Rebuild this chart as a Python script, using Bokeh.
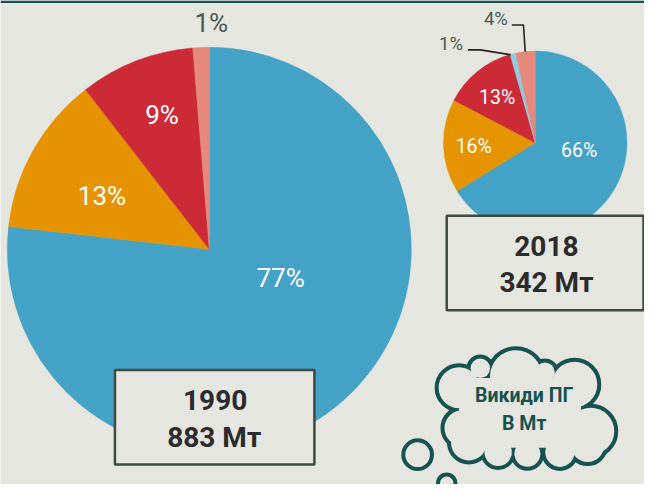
import math
from bokeh.plotting import figure
from bokeh.models import Range1d, ColumnDataSource
from bokeh.embed import file_html
from bokeh.resources import INLINE
from bokeh.core.properties import value

# ---------------- data ----------------
sectors = ["Сектор 1", "Сектор 2", "Сектор 3", "Сектор 4", "Сектор 5"]
share_1990 = [76.8, 12.7, 9.2, 0.0, 1.3]
share_2018 = [66.2, 16.5, 12.9, 1.0, 3.4]
labels_1990 = ["77%", "13%", "9%", "", "1%"]
labels_2018 = ["66%", "16%", "13%", "1%", "4%"]
years = ["1990", "2018"]
totals = ["883 Мт", "342 Мт"]
note_lines = ["Викиди ПГ", "В Мт"]

# ---------------- style / layout ----------------
BG = "#e6e6e1"
TEAL = "#155250"
BOX_LINE = "#3c4a41"
BOX_TEXT = "#2b2b2b"
OUT_TEXT = "#4a5850"
colors = ["#43a2c6", "#e59400", "#cc2a37", "#8ecbe0", "#e4897b"]

W, H = 660, 500


def Y(y):
    return H - y


p = figure(width=644, height=484, x_range=Range1d(0, W), y_range=Range1d(0, H),
           output_backend="svg", toolbar_location=None, min_border=0,
           x_axis_location=None, y_axis_location=None,
           background_fill_color=BG, border_fill_color=BG, outline_line_color=None)
p.grid.visible = False

# top rule
p.quad(left=[0], right=[W], top=[Y(0)], bottom=[Y(2.5)], fill_color=TEAL, line_color=None)


def wedge_source(shares, cx, cy, r):
    total = sum(shares)
    acc = 0.0
    d = dict(start=[], end=[], color=[], x=[], y=[], r=[])
    for s, c in zip(shares, colors):
        a0 = math.pi / 2 - 2 * math.pi * acc / total
        acc += s
        a1 = math.pi / 2 - 2 * math.pi * acc / total
        if s > 0:
            d["start"].append(a0)
            d["end"].append(a1)
            d["color"].append(c)
            d["x"].append(cx)
            d["y"].append(Y(cy))
            d["r"].append(r)
    return ColumnDataSource(d)


# pies
big = wedge_source(share_1990, 214, 257, 207)
small = wedge_source(share_2018, 548, 147, 94)
for src in (big, small):
    p.wedge(x="x", y="y", radius="r", start_angle="start", end_angle="end",
            direction="clock", fill_color="color", line_color="color",
            line_width=0.5, source=src)

# label positions (layout)
big_pos = [(287, 287), (104, 202), (165.5, 118), None, (216, 23)]
small_pos = [(593, 155), (485, 151), (509, 100), (474, 45), (520, 19.5)]

for lab, pos, sh in zip(labels_1990, big_pos, share_1990):
    if pos is None or not lab:
        continue
    inside = sh >= 5
    p.text(x=[pos[0]], y=[Y(pos[1])], text=[lab], text_font=value("Roboto"),
           text_font_size="26px", text_align="center", text_baseline="middle",
           text_color="white" if inside else OUT_TEXT)

for lab, pos, sh in zip(labels_2018, small_pos, share_2018):
    inside = sh >= 5
    p.text(x=[pos[0]], y=[Y(pos[1])], text=[lab], text_font=value("Roboto"),
           text_font_size="19.5px" if inside else "18.5px",
           text_align="center" if inside else "right", text_baseline="middle",
           text_color="white" if inside else OUT_TEXT)

# leader lines for small slices
p.multi_line(xs=[[524, 536, 537.7], [479, 491.7, 523]],
             ys=[[Y(25.3), Y(25.3), Y(53)], [Y(51), Y(51), Y(56)]],
             line_color="#222222", line_width=1.6)

# boxes
p.quad(left=[117.3, 457.3], right=[321.7, 659], top=[Y(381.7), Y(222.3)],
       bottom=[Y(479.3), Y(320)], fill_color=BG, line_color=BOX_LINE, line_width=2.5)

p.text(x=[220, 559.5], y=[Y(412.5), Y(253.3)], text=years, text_font=value("Roboto"),
       text_font_style="bold", text_font_size="28px", text_align="center",
       text_baseline="middle", text_color=BOX_TEXT)
p.text(x=[219, 559.5], y=[Y(451), Y(291.7)], text=totals, text_font=value("Roboto"),
       text_font_style="bold", text_font_size="28px", text_align="center",
       text_baseline="middle", text_color=BOX_TEXT)

# thought cloud
lobes_x = [470, 491.7, 528.3, 558, 588.3, 605, 601.7, 573.3, 540, 510, 480, 473.3]
lobes_y = [400, 380, 388.3, 384, 396.7, 445, 460, 466.7, 468.3, 466.7, 456.7, 441.7]
lobes_r = [21, 10, 26.7, 10, 23.3, 24, 16.7, 15, 13.3, 14, 18.3, 18.3]
ly = [Y(v) for v in lobes_y]
p.circle(x=lobes_x, y=ly, radius=lobes_r, fill_color=BG, line_color=TEAL, line_width=8)
p.circle(x=lobes_x, y=ly, radius=lobes_r, fill_color=BG, line_color=None)
p.quad(left=[470], right=[595], top=[Y(390)], bottom=[Y(462)], fill_color=BG, line_color=None)

p.text(x=[536.7, 536.7], y=[Y(408), Y(436.7)], text=note_lines, text_font=value("Roboto"),
       text_font_style="bold", text_font_size="19.5px", text_align="center",
       text_baseline="middle", text_color=TEAL)

# small thought bubbles
p.circle(x=[427.5, 457.3], y=[Y(469.2), Y(498.6)], radius=[14.7, 8.9],
         fill_color=None, line_color=TEAL, line_width=4)

open("out.html", "w").write(file_html(p, INLINE))
